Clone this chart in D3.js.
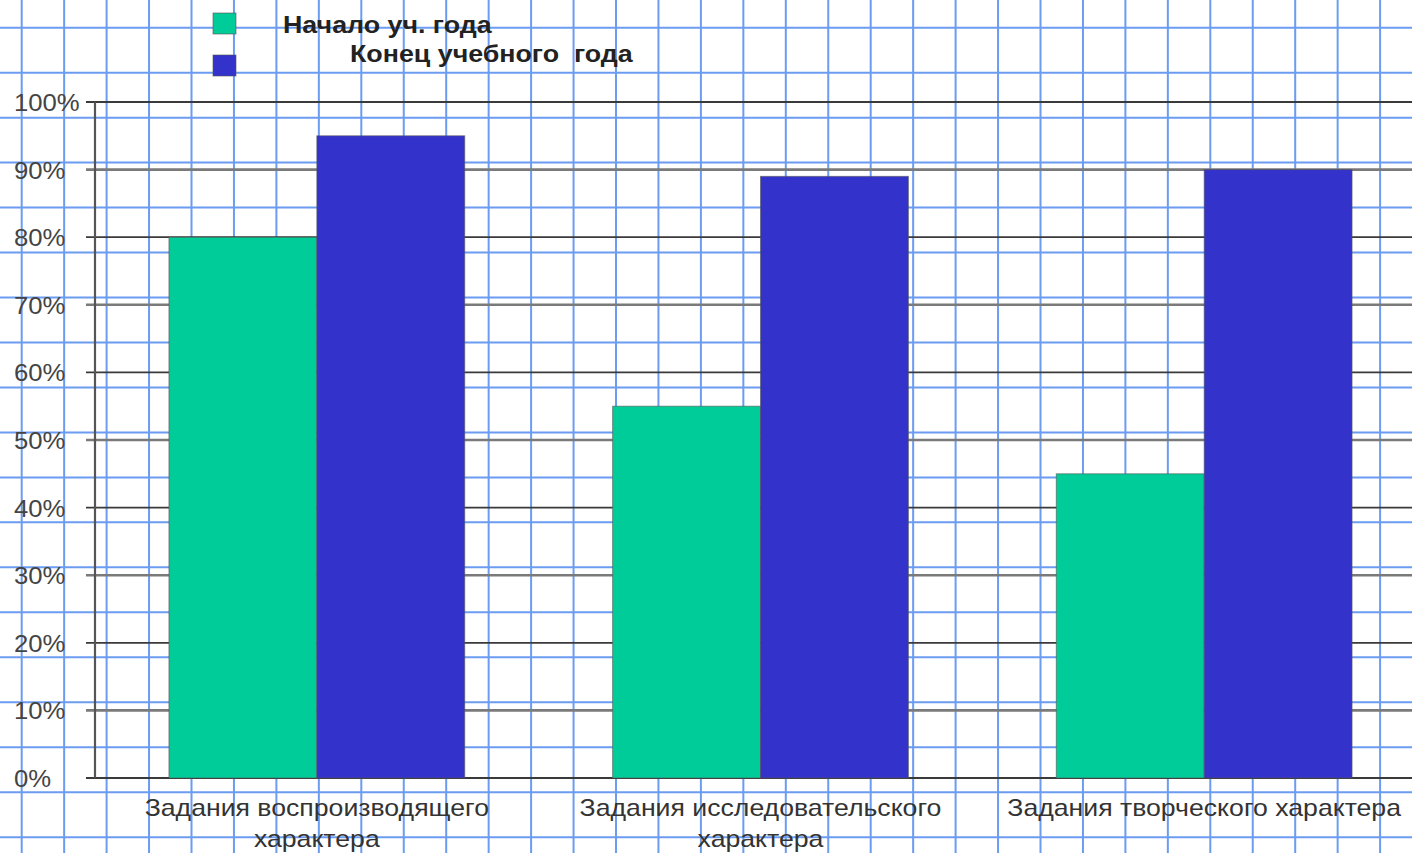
<!DOCTYPE html>
<html>
<head>
<meta charset="utf-8">
<script src="https://cdn.jsdelivr.net/npm/d3@7"></script>
<style>
  html, body { margin: 0; padding: 0; background: #fff; overflow: hidden; }
  svg { display: block; }
  text { font-family: "Liberation Sans", Arial, sans-serif; }
</style>
</head>
<body>
<svg id="chart" width="1412" height="853"></svg>
<script>
// ---- data ----
const categories = ["Задания воспроизводящего характера", "Задания исследовательского характера", "Задания творческого характера"];
const categoryLines = [["Задания воспроизводящего", "характера"], ["Задания исследовательского", "характера"], ["Задания творческого характера"]];
const seriesNames = ["Начало уч. года", "Конец учебного  года"];
const startValues = [80, 55, 45];
const endValues = [95, 89, 90];
const yTicks = [0, 10, 20, 30, 40, 50, 60, 70, 80, 90, 100];
const yTickLabels = ["0%", "10%", "20%", "30%", "40%", "50%", "60%", "70%", "80%", "90%", "100%"];
const seriesColors = ["#00CC99", "#3333CC"];

const W = 1412, H = 853;
const svg = d3.select("#chart");

function stretch(sel, factor) {
  sel.each(function () {
    const len = this.getComputedTextLength();
    d3.select(this).attr("textLength", len * factor).attr("lengthAdjust", "spacingAndGlyphs");
  });
}

// ---- graph-paper background ----
const paper = svg.append("g");
const gx0 = 21.7, gdx = 42.45, gy0 = 27.7, gdy = 44.97;
d3.range(0, 40).map(k => gx0 + k * gdx).filter(x => x < W).forEach(x => {
  paper.append("line").attr("x1", x).attr("x2", x).attr("y1", 0).attr("y2", H)
    .attr("stroke", "#6b9cf2").attr("stroke-width", 2);
});
d3.range(0, 30).map(k => gy0 + k * gdy).filter(y => y < H).forEach(y => {
  paper.append("line").attr("x1", 0).attr("x2", W).attr("y1", y).attr("y2", y)
    .attr("stroke", "#6b9cf2").attr("stroke-width", 2);
});

// ---- scales ----
const plotLeft = 95, plotRight = 1426, plotTop = 102, plotBottom = 778;
const y = d3.scaleLinear().domain([0, 100]).range([plotBottom, plotTop]);
const x0 = d3.scaleBand().domain(categories).range([plotLeft, plotRight]).padding(0);
const x1 = d3.scaleBand().domain(seriesNames).range([0, x0.bandwidth()]).paddingInner(0).paddingOuter(0.5);

// ---- horizontal gridlines (gray) ----
const grid = svg.append("g");
yTicks.forEach((t, i) => {
  grid.append("line")
    .attr("x1", plotLeft - 9).attr("x2", W)
    .attr("y1", y(t)).attr("y2", y(t))
    .attr("stroke", i % 2 === 1 ? "#7a7a7a" : "#3a3a3a")
    .attr("stroke-width", i % 2 === 1 ? 2.6 : 1.8);
});
// y axis line
grid.append("line").attr("x1", plotLeft).attr("x2", plotLeft)
  .attr("y1", y(100)).attr("y2", y(0)).attr("stroke", "#555").attr("stroke-width", 2.2);

// ---- tick labels (left aligned) ----
const tickText = svg.append("g").selectAll("text").data(yTicks).join("text")
  .attr("x", 14).attr("y", d => y(d) + 9)
  .attr("font-size", 24).attr("fill", "#444")
  .text((d, i) => yTickLabels[i]);
stretch(tickText, 1.07);

// ---- bars ----
const seriesData = [startValues, endValues];
const bars = svg.append("g");
categories.forEach((c, ci) => {
  seriesNames.forEach((s, si) => {
    const v = seriesData[si][ci];
    bars.append("rect")
      .attr("x", x0(c) + x1(s))
      .attr("y", y(v))
      .attr("width", x1.bandwidth())
      .attr("height", y(0) - y(v))
      .attr("fill", seriesColors[si])
      .attr("stroke", "#555").attr("stroke-opacity", 0.6).attr("stroke-width", 1);
  });
});

// ---- category labels ----
const catG = svg.append("g");
categories.forEach((c, ci) => {
  const cx = x0(c) + x0.bandwidth() / 2;
  categoryLines[ci].forEach((line, li) => {
    catG.append("text")
      .attr("x", cx).attr("y", 816 + li * 31)
      .attr("text-anchor", "middle")
      .attr("font-size", 24).attr("fill", "#333")
      .text(line);
  });
});
stretch(catG.selectAll("text"), 1.11);

// ---- legend ----
const legend = svg.append("g");
const legendBox = [[213, 13], [213, 55]];
const legendText = [[283, 33], [350, 62]];
seriesNames.forEach((s, i) => {
  legend.append("rect").attr("x", legendBox[i][0]).attr("y", legendBox[i][1])
    .attr("width", 23).attr("height", 21)
    .attr("fill", seriesColors[i]).attr("stroke", "#555").attr("stroke-opacity", 0.6);
  legend.append("text").attr("x", legendText[i][0]).attr("y", legendText[i][1])
    .attr("font-size", 23).attr("font-weight", "bold").attr("fill", "#222")
    .style("white-space", "pre")
    .text(s);
});
stretch(legend.selectAll("text"), 1.165);
</script>
</body>
</html>
